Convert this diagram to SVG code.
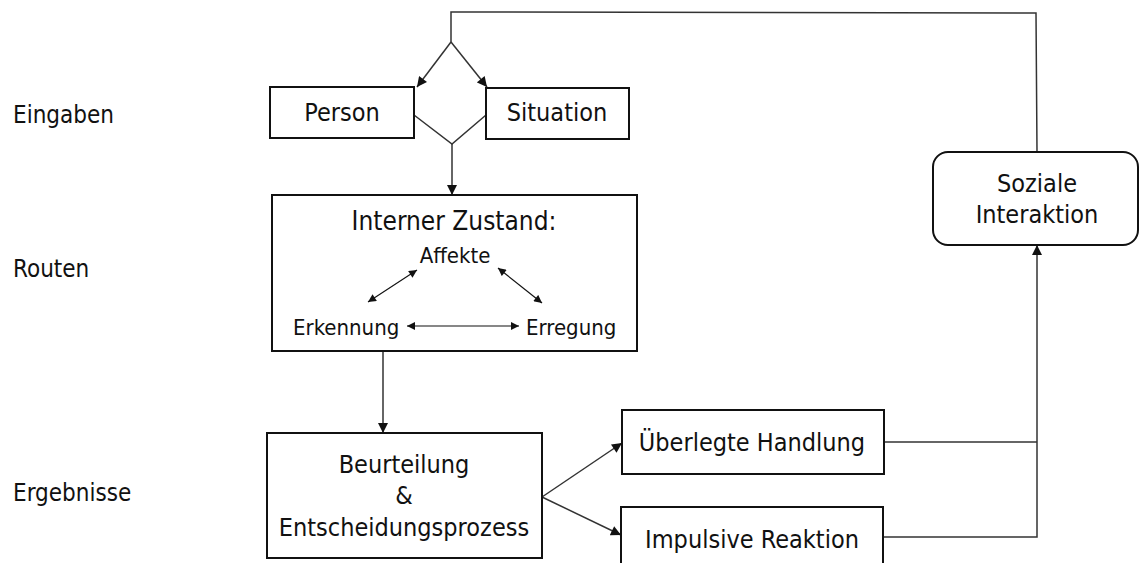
<svg xmlns="http://www.w3.org/2000/svg" width="1140" height="563" viewBox="0 0 1140 563">
<defs>
<style>
text{font-family:"DejaVu Sans Condensed","DejaVu Sans","Liberation Sans",sans-serif;font-stretch:condensed;font-size:25px;fill:#111}
.lab{font-size:24px}
.box{fill:#fff;stroke:#111;stroke-width:2}
.c{fill:none;stroke:#333;stroke-width:1.5}
.s{font-size:22px}
.m{text-anchor:middle}
</style>
<marker id="ah" viewBox="0 0 10 10" refX="10" refY="5" markerWidth="11" markerHeight="10" markerUnits="userSpaceOnUse" orient="auto-start-reverse">
<path d="M0,0 L10,5 L0,10 z" fill="#111"/>
</marker>
<marker id="as" viewBox="0 0 10 10" refX="10" refY="5" markerWidth="9" markerHeight="8" markerUnits="userSpaceOnUse" orient="auto-start-reverse">
<path d="M0,0 L10,5 L0,10 z" fill="#111"/>
</marker>
</defs>
<rect width="1140" height="563" fill="#fff"/>
<g id="labels">
<text class="lab" x="13" y="123">Eingaben</text>
<text class="lab" x="13" y="277">Routen</text>
<text class="lab" x="13" y="501">Ergebnisse</text>
</g>
<g id="connectors">
<polyline class="c" points="1037,152 1036,13 451,12 451,42"/>
<line class="c" x1="451" y1="42" x2="417" y2="87" marker-end="url(#ah)"/>
<line class="c" x1="451" y1="42" x2="487" y2="87" marker-end="url(#ah)"/>
<polyline class="c" points="414,115 452,144 486,115"/>
<line class="c" x1="452" y1="144" x2="452" y2="195" marker-end="url(#ah)"/>
<line class="c" x1="383" y1="351" x2="383" y2="433" marker-end="url(#ah)"/>
<line class="c" x1="542" y1="497" x2="622" y2="443" marker-end="url(#ah)"/>
<line class="c" x1="542" y1="497" x2="621" y2="535" marker-end="url(#ah)"/>
<polyline class="c" points="884,442 1037,442"/>
<polyline class="c" points="883,537 1037,537 1037,245" marker-end="url(#ah)"/>
</g>
<g id="person"><rect class="box" x="270" y="87" width="144" height="51"/><text class="m" x="342" y="121">Person</text></g>
<g id="situation"><rect class="box" x="486" y="88" width="143" height="51"/><text class="m" x="557" y="121">Situation</text></g>
<g id="interner">
<rect class="box" x="272" y="195" width="365" height="156"/>
<text class="m" x="454" y="230" style="font-size:26px">Interner Zustand:</text>
<text class="m s" x="455" y="263">Affekte</text>
<text class="s" x="293" y="335">Erkennung</text>
<text class="s" x="526" y="335">Erregung</text>
<line class="c" x1="417" y1="270" x2="368" y2="302" style="stroke:#111;stroke-width:1.2" marker-start="url(#as)" marker-end="url(#as)"/>
<line class="c" x1="498" y1="268" x2="542" y2="303" style="stroke:#111;stroke-width:1.2" marker-start="url(#as)" marker-end="url(#as)"/>
<line class="c" x1="407" y1="326" x2="519" y2="326" style="stroke:#111;stroke-width:1.2" marker-start="url(#as)" marker-end="url(#as)"/>
</g>
<g id="beurteilung">
<rect class="box" x="267" y="433" width="275" height="125"/>
<text class="m" x="404" y="473">Beurteilung</text>
<text class="m" x="404" y="504">&amp;</text>
<text class="m" x="404" y="536">Entscheidungsprozess</text>
</g>
<g id="ueberlegt"><rect class="box" x="622" y="410" width="262" height="64"/><text class="m" x="752" y="451">Überlegte Handlung</text></g>
<g id="impulsiv"><rect class="box" x="621" y="507" width="262" height="70"/><text class="m" x="752" y="548">Impulsive Reaktion</text></g>
<g id="soziale">
<rect class="box" x="933" y="152" width="205" height="93" rx="15"/>
<text class="m" x="1037" y="192">Soziale</text>
<text class="m" x="1037" y="223">Interaktion</text>
</g>
</svg>
